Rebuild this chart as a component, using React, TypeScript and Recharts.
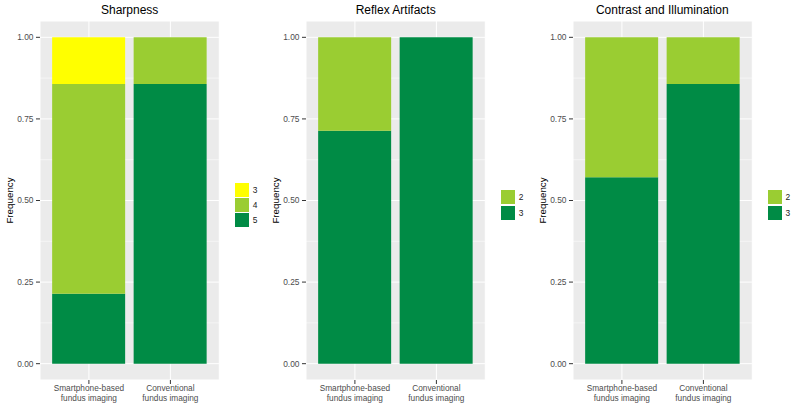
import React from 'react';
import { BarChart, Bar, XAxis, YAxis, CartesianGrid } from 'recharts';

const categories = ['Smartphone-based\nfundus imaging', 'Conventional\nfundus imaging'];
const yTicks = [0, 0.25, 0.5, 0.75, 1];
const minorTicks = [0.125, 0.375, 0.625, 0.875];

// Sharpness (score 3, 4, 5)
const sharpness3 = [0.143, 0];
const sharpness4 = [0.643, 0.143];
const sharpness5 = [0.214, 0.857];
// Reflex artifacts (score 2, 3)
const reflex2 = [0.286, 0];
const reflex3 = [0.714, 1.0];
// Contrast and illumination (score 2, 3)
const contrast2 = [0.429, 0.143];
const contrast3 = [0.571, 0.857];

const YELLOW = '#FFFF00';
const LIGHT = '#9ACD32';
const DARK = '#008B45';
const FONT = '"Liberation Sans", Arial, sans-serif';

type Series = { key: string; label: string; color: string; values: number[] };

const PLOT_W = 179.3;
const PLOT_TOP = 21;
const PLOT_BOTTOM = 380;
const Y_AXIS_W = 40;

const XTick = (props: any) => {
  const { x, y, payload } = props;
  const lines = String(payload.value).split('\n');
  return (
    <g>
      {lines.map((l, i) => (
        <text
          key={i}
          x={x}
          y={y + 5.5 + i * 9.6}
          textAnchor="middle"
          fill="#4D4D4D"
          fontSize={8.3}
          fontFamily={FONT}
        >
          {l}
        </text>
      ))}
    </g>
  );
};

function Panel({ title, plotLeft, series }: { title: string; plotLeft: number; series: Series[] }) {
  const rows = categories.map((c, i) => {
    const r: any = { cat: c };
    series.forEach((s) => (r[s.key] = s.values[i]));
    return r;
  });
  const chartLeft = plotLeft - Y_AXIS_W;
  const chartW = Y_AXIS_W + PLOT_W + 1;
  const plotRight = plotLeft + PLOT_W;
  const legendItems = [...series].reverse();
  const keyStep = 15.3;
  const legendTop = 205.5 - (legendItems.length * keyStep) / 2;
  return (
    <>
      <div
        style={{
          position: 'absolute',
          left: plotLeft,
          width: PLOT_W,
          top: 4,
          textAlign: 'center',
          fontFamily: FONT,
          fontSize: 12,
          lineHeight: '12px',
          color: '#000',
          whiteSpace: 'nowrap',
        }}
      >
        {title}
      </div>
      <div style={{ position: 'absolute', left: chartLeft, top: 0 }}>
        <BarChart
          width={chartW}
          height={418}
          data={rows}
          margin={{ top: PLOT_TOP, right: 1, bottom: 0, left: 0 }}
          barSize={73}
        >
          <CartesianGrid fill="#EBEBEB" stroke="#FFFFFF" strokeWidth={1} />
          <CartesianGrid vertical={false} horizontalValues={minorTicks} stroke="#FFFFFF" strokeWidth={0.5} />
          <XAxis
            dataKey="cat"
            type="category"
            interval={0}
            padding={{ left: 8.15, right: 8.15 }}
            axisLine={false}
            tickLine={{ stroke: '#333333' }}
            tickSize={4}
            tickMargin={2}
            height={418 - PLOT_BOTTOM}
            tick={<XTick />}
          />
          <YAxis
            type="number"
            domain={[-0.05, 1.05]}
            ticks={yTicks}
            width={Y_AXIS_W}
            axisLine={false}
            tickLine={{ stroke: '#333333' }}
            tickSize={4}
            tickMargin={2.5}
            tick={{ fill: '#4D4D4D', fontSize: 8.4, fontFamily: FONT }}
            tickFormatter={(v: number) => v.toFixed(2)}
            label={{
              value: 'Frequency',
              angle: -90,
              position: 'center',
              dx: -10,
              fill: '#000000',
              fontSize: 9.8,
              fontFamily: FONT,
            }}
          />
          {series.map((s) => (
            <Bar key={s.key} dataKey={s.key} stackId="a" fill={s.color} isAnimationActive={false} />
          ))}
        </BarChart>
      </div>
      {legendItems.map((s, i) => (
        <React.Fragment key={s.key}>
          <div
            style={{
              position: 'absolute',
              left: plotRight + 16,
              top: legendTop + i * keyStep,
              width: 14,
              height: 14,
              background: s.color,
            }}
          />
          <div
            style={{
              position: 'absolute',
              left: plotRight + 16 + 17.5,
              top: legendTop + i * keyStep,
              height: 14,
              lineHeight: '14px',
              fontFamily: FONT,
              fontSize: 8.4,
              color: '#222222',
            }}
          >
            {s.label}
          </div>
        </React.Fragment>
      ))}
    </>
  );
}

export default function App() {
  return (
    <div style={{ position: 'absolute', left: 0, top: 0, width: 800, height: 418, background: '#FFFFFF' }}>
      <Panel
        title="Sharpness"
        plotLeft={40}
        series={[
          { key: 's5', label: '5', color: DARK, values: sharpness5 },
          { key: 's4', label: '4', color: LIGHT, values: sharpness4 },
          { key: 's3', label: '3', color: YELLOW, values: sharpness3 },
        ]}
      />
      <Panel
        title="Reflex Artifacts"
        plotLeft={306}
        series={[
          { key: 'r3', label: '3', color: DARK, values: reflex3 },
          { key: 'r2', label: '2', color: LIGHT, values: reflex2 },
        ]}
      />
      <Panel
        title="Contrast and Illumination"
        plotLeft={572.7}
        series={[
          { key: 'c3', label: '3', color: DARK, values: contrast3 },
          { key: 'c2', label: '2', color: LIGHT, values: contrast2 },
        ]}
      />
    </div>
  );
}
